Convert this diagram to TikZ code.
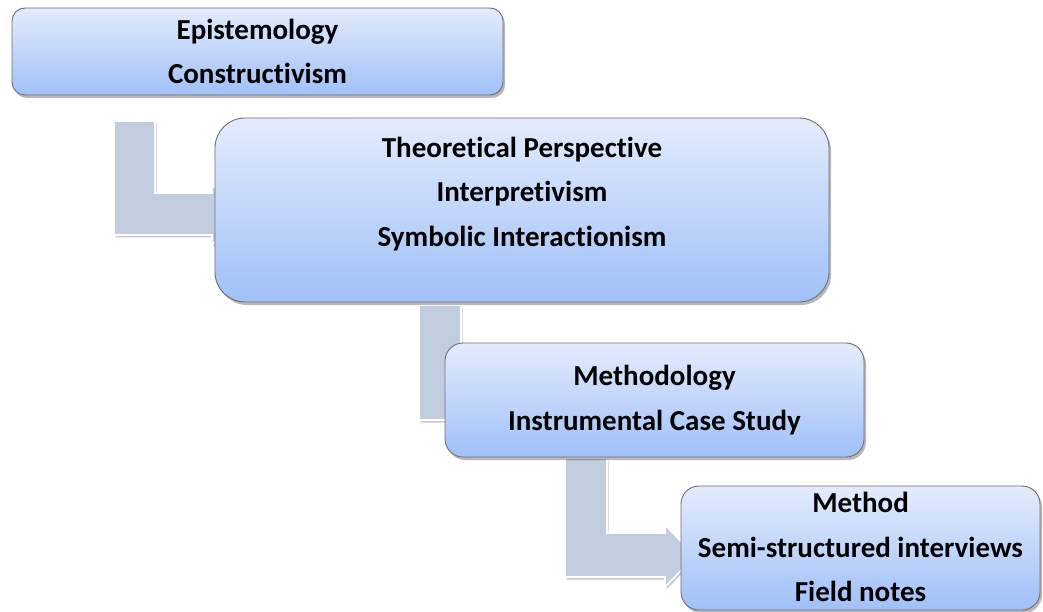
\documentclass[tikz,border=0pt]{standalone}
\usepackage{fontspec}
\setmainfont{Carlito}[Ligatures=NoCommon]
\usetikzlibrary{shadows,calc,backgrounds}
\definecolor{connfill}{RGB}{193,204,223}
\definecolor{boxtop}{RGB}{227,236,252}
\definecolor{boxbot}{RGB}{160,192,248}
\definecolor{boxline}{RGB}{110,110,115}
\begin{document}
\begin{tikzpicture}[x=1pt,y=-1pt,
  stagebox/.style={rectangle, draw=boxline, line width=0.9pt,
    top color=boxtop, bottom color=boxbot, inner sep=0pt, outer sep=0pt,
    drop shadow={shadow xshift=2pt, shadow yshift=-3pt, opacity=0.28, fill=black}},
  stagetext/.style={align=center, font=\fontsize{29}{44.5}\selectfont\bfseries,
    inner sep=0pt, text=black},
  conn/.style={fill=connfill, draw=white, line width=1.6pt, line join=miter,
    drop shadow={shadow xshift=1.5pt, shadow yshift=-2.5pt, opacity=0.22, fill=black}}]
\useasboundingbox (0,0) rectangle (1043,612);

% boxes
\node[stagebox, rounded corners=13pt, minimum width=491pt, minimum height=87pt]
  (b1) at (257.5,51.5) {};
\node[stagebox, rounded corners=30pt, minimum width=614pt, minimum height=184pt]
  (b2) at (522,210) {};
\node[stagebox, rounded corners=18pt, minimum width=419pt, minimum height=114pt]
  (b3) at (654.5,400) {};
\node[stagebox, rounded corners=18pt, minimum width=359pt, minimum height=124pt]
  (b4) at (860.5,548) {};

% texts
\node[stagetext] (t1) at (b1.center) {Epistemology\\Constructivism};
\node[stagetext] (t2) at ($(b2.center)+(0,-16)$) {Theoretical Perspective\\Interpretivism\\Symbolic Interactionism};
\node[stagetext] (t3) at (b3.center) {Methodology\\Instrumental Case Study};
\node[stagetext] (t4) at ($(b4.center)+(0,-1)$) {Method\\Semi-structured interviews\\Field notes};

% bent connectors behind the boxes
\begin{scope}[on background layer]
\path[conn] ($(b1.south west)+(102,26)$) coordinate (c1a)
  -- ++(41,0) -- ++(0,72) -- ++(57,0) -- ++(0,-8) -- ++(28,29)
  -- ++(-28,31) -- ++(0,-10) -- ++(-98,0) -- cycle;
\path[conn] ($(b2.south west)+(204,3)$) coordinate (c2a)
  -- ++(42,0) -- ++(0,73) -- ++(14,0) -- ++(0,-8) -- ++(28,29)
  -- ++(-28,29) -- ++(0,-8) -- ++(-56,0) -- cycle;
\path[conn] ($(b3.south west)+(120,1)$) coordinate (c3a)
  -- ++(42,0) -- ++(0,75) -- ++(58,0) -- ++(0,-8) -- ++(30,31)
  -- ++(-30,31) -- ++(0,-10) -- ++(-100,0) -- cycle;
\end{scope}
\end{tikzpicture}
\end{document}
